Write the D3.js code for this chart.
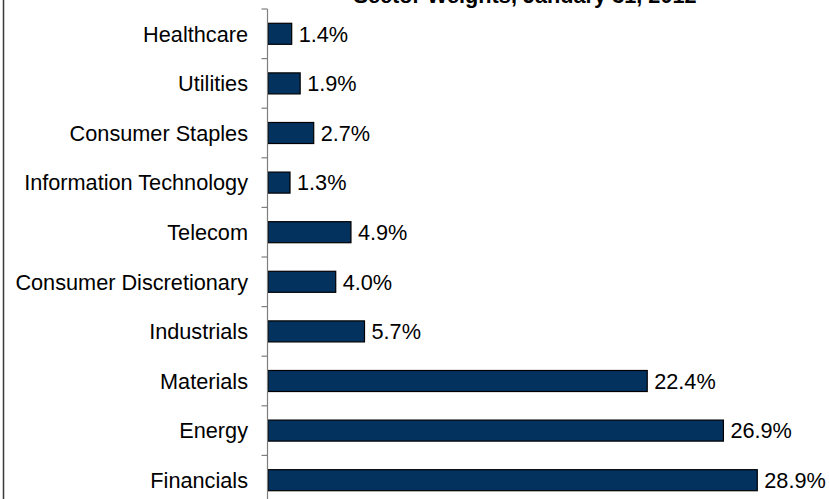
<!DOCTYPE html>
<html>
<head>
<meta charset="utf-8">
<script src="https://cdn.jsdelivr.net/npm/d3@7"></script>
<style>
  html, body { margin: 0; padding: 0; background: #fff; }
  svg { display: block; font-family: "Liberation Sans", Arial, sans-serif; }
</style>
</head>
<body>
<svg id="chart" width="829" height="499"></svg>
<script>
// Sector weights, top to bottom
const sectors = ["Healthcare", "Utilities", "Consumer Staples", "Information Technology",
  "Telecom", "Consumer Discretionary", "Industrials", "Materials", "Energy", "Financials"];
const weights = [1.4, 1.9, 2.7, 1.3, 4.9, 4.0, 5.7, 22.4, 26.9, 28.9];
const title = "Sector Weights, January 31, 2012";

const svg = d3.select("#chart");
const axisX = 268;
const fontSize = 21.7;

const y = d3.scaleBand()
  .domain(sectors)
  .range([9, 505])
  .paddingInner(0.576)
  .paddingOuter(0.288);

const x = d3.scaleLinear()
  .domain([0, 30])
  .range([axisX, axisX + 507.9]);

// outer frame edge on the left
svg.append("line")
  .attr("x1", 3.5).attr("x2", 3.5)
  .attr("y1", 0).attr("y2", 499)
  .attr("stroke", "#3a3a3a").attr("stroke-width", 1.5);

// title
svg.append("text")
  .attr("x", 525).attr("y", 3)
  .attr("text-anchor", "middle")
  .attr("font-size", 21.7)
  .attr("font-weight", "bold")
  .text(title);

// bars
svg.append("g").selectAll("rect")
  .data(sectors)
  .join("rect")
  .attr("x", x(0))
  .attr("y", d => y(d))
  .attr("width", (d, i) => x(weights[i]) - x(0))
  .attr("height", y.bandwidth())
  .attr("fill", "#04325f")
  .attr("stroke", "#000")
  .attr("stroke-width", 1.2);

// value labels
svg.append("g").selectAll("text")
  .data(sectors)
  .join("text")
  .attr("x", (d, i) => x(weights[i]) + 7)
  .attr("y", d => y(d) + y.bandwidth() / 2)
  .attr("dy", "0.36em")
  .attr("font-size", fontSize)
  .attr("fill", "#000")
  .text((d, i) => weights[i].toFixed(1) + "%");

// category axis: line, boundary ticks and labels
const axisG = svg.append("g");
const step = y.step();
const y0 = y.range()[0];
axisG.append("line")
  .attr("x1", axisX - 0.5).attr("x2", axisX - 0.5)
  .attr("y1", y0).attr("y2", y.range()[1])
  .attr("stroke", "#7f7f7f").attr("stroke-width", 1.2);
axisG.selectAll("line.tick")
  .data(d3.range(sectors.length + 1))
  .join("line")
  .attr("class", "tick")
  .attr("x1", axisX - 6.5).attr("x2", axisX - 0.5)
  .attr("y1", i => y0 + i * step).attr("y2", i => y0 + i * step)
  .attr("stroke", "#7f7f7f").attr("stroke-width", 1.2);
axisG.selectAll("text")
  .data(sectors)
  .join("text")
  .attr("x", axisX - 20)
  .attr("y", d => y(d) + y.bandwidth() / 2)
  .attr("dy", "0.36em")
  .attr("text-anchor", "end")
  .attr("font-size", fontSize)
  .attr("fill", "#000")
  .text(d => d);
</script>
</body>
</html>
